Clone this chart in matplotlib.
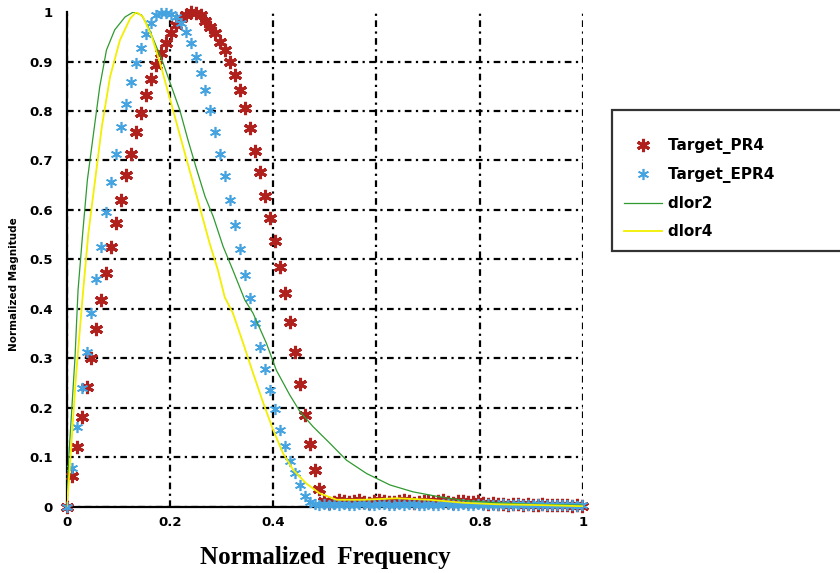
import numpy as np
import matplotlib
matplotlib.use('Agg')
import matplotlib.pyplot as plt

# ==================== DATA ====================

FREQ_STEP = 0.0096  # sampling step of the target responses

# Target PR4 magnitude, one value per frequency sample
pr4_mag = [0.0, 0.062, 0.121, 0.182, 0.241, 0.300, 0.360, 0.418, 0.472, 0.524,
           0.574, 0.621, 0.671, 0.714, 0.757, 0.795, 0.832, 0.865, 0.893, 0.918,
           0.938, 0.957, 0.974, 0.987, 0.995, 1.000, 0.999, 0.994, 0.982, 0.970,
           0.957, 0.940, 0.923, 0.900, 0.873, 0.842, 0.807, 0.766, 0.720, 0.676,
           0.628, 0.583, 0.537, 0.485, 0.433, 0.374, 0.313, 0.249, 0.185, 0.127,
           0.074, 0.035,
           0.012, 0.008, 0.010, 0.013, 0.011, 0.009, 0.012, 0.014, 0.010, 0.008,
           0.011, 0.013, 0.012, 0.009, 0.010, 0.012, 0.013, 0.011, 0.008, 0.010,
           0.012, 0.011, 0.009, 0.012, 0.013, 0.010, 0.008, 0.011, 0.012, 0.010,
           0.009, 0.011, 0.008, 0.006, 0.007, 0.005, 0.006, 0.004, 0.005, 0.006,
           0.004, 0.005, 0.003, 0.004, 0.005, 0.003, 0.004, 0.003, 0.004, 0.003,
           0.002, 0.003, 0.002]

# Target EPR4 magnitude
epr4_mag = [0.0, 0.078, 0.162, 0.239, 0.313, 0.391, 0.460, 0.526, 0.595, 0.657,
            0.714, 0.767, 0.815, 0.859, 0.896, 0.927, 0.955, 0.977, 0.994, 0.999,
            0.999, 0.997, 0.990, 0.977, 0.960, 0.937, 0.910, 0.876, 0.842, 0.802,
            0.758, 0.714, 0.668, 0.620, 0.569, 0.520, 0.468, 0.421, 0.371, 0.323,
            0.278, 0.236, 0.197, 0.156, 0.123, 0.092, 0.068, 0.044, 0.022, 0.010,
            0.006, 0.004, 0.005, 0.003, 0.006, 0.004, 0.005, 0.003, 0.004, 0.006,
            0.005, 0.003, 0.004, 0.005, 0.006, 0.004, 0.003, 0.005, 0.004, 0.006,
            0.005, 0.003, 0.004, 0.005, 0.004, 0.003, 0.005, 0.006, 0.004, 0.003,
            0.005, 0.004, 0.003, 0.005, 0.004, 0.006, 0.004, 0.003, 0.005, 0.004,
            0.003, 0.005, 0.004, 0.003, 0.004, 0.005, 0.003, 0.004, 0.003, 0.004,
            0.003, 0.004, 0.003, 0.002, 0.003]

# dlor2 response
dlor2_f = [0.0, 0.004, 0.010, 0.016, 0.022, 0.031, 0.040, 0.052, 0.064, 0.077,
           0.093, 0.113, 0.129, 0.145, 0.158, 0.171, 0.187, 0.203, 0.219, 0.235,
           0.252, 0.268, 0.284, 0.303, 0.322, 0.345, 0.361, 0.387, 0.406, 0.432,
           0.452, 0.477, 0.510, 0.542, 0.581, 0.626, 0.671, 0.722, 0.774, 0.832,
           0.897, 1.0]
dlor2_mag = [0.0, 0.10, 0.20, 0.30, 0.438, 0.553, 0.660, 0.755, 0.849, 0.923,
             0.964, 0.990, 1.000, 0.994, 0.970, 0.937, 0.896, 0.849, 0.802, 0.741,
             0.681, 0.627, 0.586, 0.526, 0.478, 0.418, 0.391, 0.330, 0.276, 0.226,
             0.192, 0.162, 0.128, 0.094, 0.067, 0.044, 0.030, 0.020, 0.012, 0.008,
             0.005, 0.003]

# dlor4 response
dlor4_f = [0.0, 0.004, 0.010, 0.017, 0.024, 0.032, 0.042, 0.055, 0.068, 0.084,
           0.103, 0.123, 0.135, 0.148, 0.165, 0.181, 0.197, 0.213, 0.229, 0.245,
           0.261, 0.277, 0.293, 0.306, 0.322, 0.342, 0.361, 0.381, 0.400, 0.419,
           0.439, 0.464, 0.490, 0.523, 0.574, 0.639, 0.703, 0.768, 0.832, 0.929,
           1.0]
dlor4_mag = [0.0, 0.05, 0.14, 0.25, 0.34, 0.438, 0.553, 0.660, 0.768, 0.869,
             0.943, 0.987, 1.000, 0.990, 0.950, 0.896, 0.836, 0.775, 0.714, 0.654,
             0.593, 0.532, 0.478, 0.424, 0.391, 0.330, 0.270, 0.209, 0.155, 0.108,
             0.074, 0.047, 0.027, 0.014, 0.014, 0.017, 0.014, 0.008, 0.005, 0.003,
             0.001]

x_ticks = [0, 0.2, 0.4, 0.6, 0.8, 1]
x_tick_labels = ['0', '0.2', '0.4', '0.6', '0.8', '1']
y_ticks = [0, 0.1, 0.2, 0.3, 0.4, 0.5, 0.6, 0.7, 0.8, 0.9, 1]
y_tick_labels = ['0', '0.1', '0.2', '0.3', '0.4', '0.5', '0.6', '0.7', '0.8', '0.9', '1']

# ==================== PLOT ====================

fig = plt.figure(figsize=(8.4, 5.73), dpi=100)
ax = fig.add_axes([0.0794, 0.1157, 0.6146, 0.8633])

freq_pr4 = np.arange(len(pr4_mag)) * FREQ_STEP
freq_epr4 = np.arange(len(epr4_mag)) * FREQ_STEP

asterisk = (6, 2, 0)
ax.plot(freq_pr4, pr4_mag, linestyle='none', marker=asterisk, markersize=9.5,
        markeredgewidth=2.2, color='#b0201c', label='Target_PR4', zorder=3,
        clip_on=False)
ax.plot(freq_epr4, epr4_mag, linestyle='none', marker=asterisk, markersize=8,
        markeredgewidth=1.2, color='#45a3e0', label='Target_EPR4', zorder=4,
        clip_on=False)
ax.plot(dlor2_f, dlor2_mag, color='#2f9a2f', linewidth=0.9, label='dlor2', zorder=5)
ax.plot(dlor4_f, dlor4_mag, color='#f2ef00', linewidth=1.3, label='dlor4', zorder=5)

ax.set_xlim(0, 1)
ax.set_ylim(0, 1)
ax.set_xticks(x_ticks)
ax.set_xticklabels(x_tick_labels)
ax.set_yticks(y_ticks)
ax.set_yticklabels(y_tick_labels)
for lab in ax.get_xticklabels() + ax.get_yticklabels():
    lab.set_fontweight('bold')
    lab.set_fontsize(9.5)
    lab.set_family('DejaVu Sans')
ax.tick_params(axis='y', length=0, pad=10)
ax.tick_params(axis='x', length=0, pad=7)

ax.grid(True, color='black', linestyle=(0, (3, 2, 1, 2)), linewidth=1.6)
ax.yaxis.get_gridlines()[-1].set_visible(False)
ax.set_axisbelow(True)

for side in ['top', 'right']:
    ax.spines[side].set_visible(False)
for side in ['left', 'bottom']:
    ax.spines[side].set_linewidth(1.6)

ax.set_xlabel('Normalized  Frequency', family='Liberation Serif',
              fontweight='bold', fontsize=18, labelpad=12)
ax.set_ylabel('Normalized Magnitude', family='DejaVu Sans',
              fontweight='bold', fontsize=7.5)
ax.yaxis.set_label_coords(-0.093, 0.45)

leg = fig.legend(loc='upper left', bbox_to_anchor=(0.729, 0.808),
                 prop={'weight': 'bold', 'size': 11, 'family': 'DejaVu Sans'},
                 title=' ', title_fontsize=3,
                 frameon=True, fancybox=False, borderpad=0.75, labelspacing=0.85,
                 handlelength=2.5, handletextpad=0.4, borderaxespad=0)
leg.get_frame().set_edgecolor('black')
leg.get_frame().set_linewidth(1.6)
for text in leg.get_texts():
    text.set_text(text.get_text() + '           ')

fig.savefig('out.png', dpi=100)
